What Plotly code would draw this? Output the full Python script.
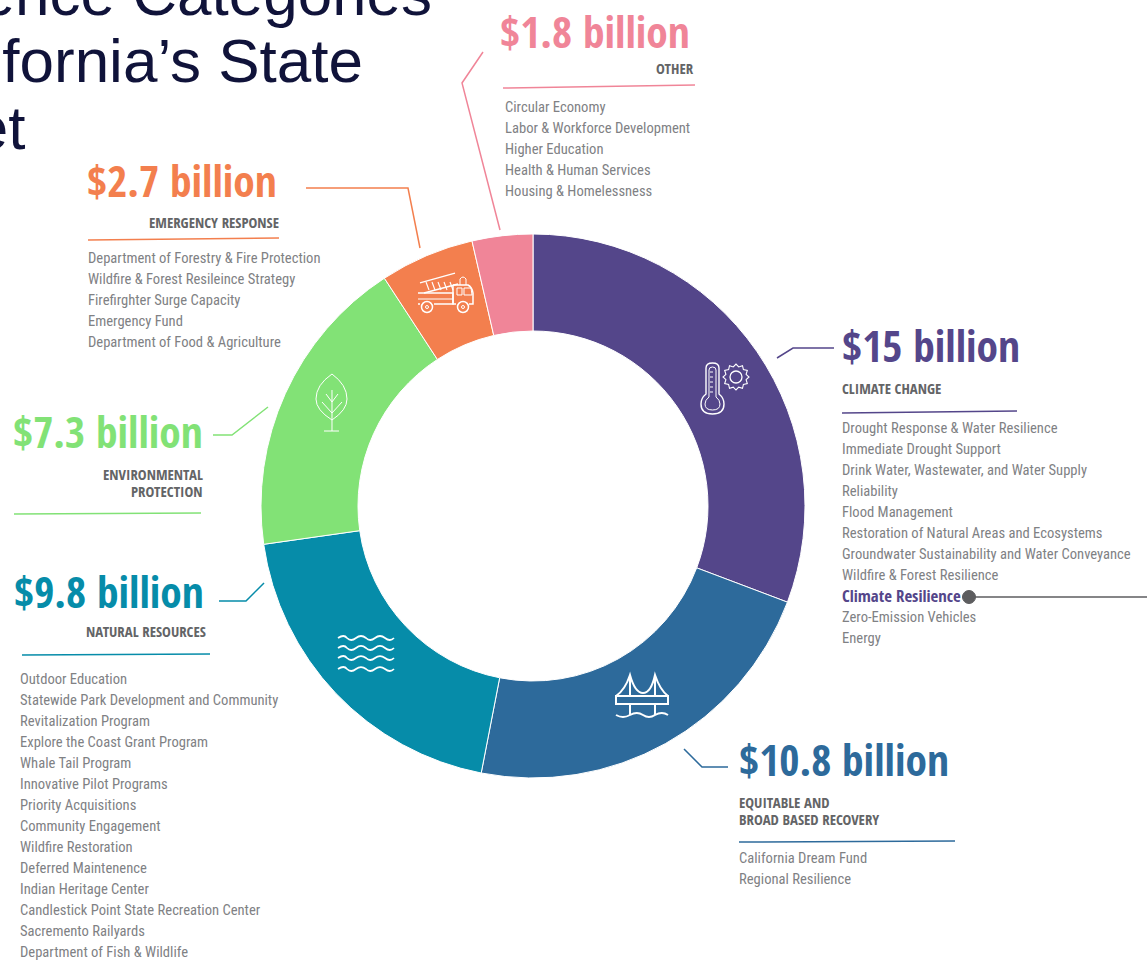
import math
import re
import plotly.graph_objects as go

W, H = 1147, 960

categories = ["Climate Change", "Equitable and Broad Based Recovery", "Natural Resources",
              "Environmental Protection", "Emergency Response", "Other"]
amount_labels = ["$15 billion", "$10.8 billion", "$9.8 billion", "$7.3 billion", "$2.7 billion", "$1.8 billion"]
# slice sizes as drawn in the picture (percent of the ring)
slice_shares = [30.75, 22.3, 19.7, 18.05, 5.6, 3.6]
colors = ["#54468a", "#2d6a9b", "#068ca9", "#82e276", "#f37f4e", "#f08598"]

climate_items = ["Drought Response & Water Resilience", "Immediate Drought Support",
                 "Drink Water, Wastewater, and Water Supply", "Reliability", "Flood Management",
                 "Restoration of Natural Areas and Ecosystems",
                 "Groundwater Sustainability and Water Conveyance", "Wildfire & Forest Resilience",
                 "Climate Resilience", "Zero-Emission Vehicles", "Energy"]
recovery_items = ["California Dream Fund", "Regional Resilience"]
resources_items = ["Outdoor Education", "Statewide Park Development and Community", "Revitalization Program",
                   "Explore the Coast Grant Program", "Whale Tail Program", "Innovative Pilot Programs",
                   "Priority Acquisitions", "Community Engagement", "Wildfire Restoration",
                   "Deferred Maintenence", "Indian Heritage Center", "Candlestick Point State Recreation Center",
                   "Sacremento Railyards", "Department of Fish & Wildlife"]
emergency_items = ["Department of Forestry & Fire Protection", "Wildfire & Forest Resileince Strategy",
                   "Firefirghter Surge Capacity", "Emergency Fund", "Department of Food & Agriculture"]
other_items = ["Circular Economy", "Labor & Workforce Development", "Higher Education",
               "Health & Human Services", "Housing & Homelessness"]
title_lines = ["Resilience Categories", "in California’s State", "Budget"]

NARROW = "Roboto Condensed"
HEADF = "Open Sans Condensed"
GRAY = "#808184"
DARK = "#636466"
annotations, shapes = [], []


def fx(x):
    return x / W


def fy(y):
    return 1 - y / H


def text(x, y, s, size, color, anchor="left", bold=False, family=NARROW):
    annotations.append(dict(
        x=fx(x), y=fy(y), xref="paper", yref="paper", text=f"<b>{s}</b>" if bold else s,
        showarrow=False, xanchor=anchor, yanchor="middle", align=anchor,
        font=dict(family=family, size=size, color=color), borderpad=0, borderwidth=0))


def path(d, color, width=1.5, fill=None):
    def conv(m):
        return f"{fx(float(m.group(1))):.5f},{fy(float(m.group(2))):.5f}"
    d = re.sub(r"(-?[\d.]+),(-?[\d.]+)", conv, d)
    shapes.append(dict(type="path", xref="paper", yref="paper", path=d,
                       line=dict(color=color, width=width),
                       fillcolor=fill if fill else "rgba(0,0,0,0)", layer="above"))


def circle(cx, cy, r, color, width=1.5, fill=None):
    shapes.append(dict(type="circle", xref="paper", yref="paper",
                       x0=fx(cx - r), x1=fx(cx + r), y0=fy(cy - r), y1=fy(cy + r),
                       line=dict(color=color, width=width),
                       fillcolor=fill if fill else "rgba(0,0,0,0)", layer="above"))


ITEM_SIZE = 14.6
HEAD = 43.5
SUB = 14.8


def items(x, y0, lst):
    for i, s in enumerate(lst):
        text(x, y0 + 21 * i, s, ITEM_SIZE, GRAY)


def sub(x, y, s, anchor="left"):
    text(x, y, s, SUB, DARK, anchor, family=HEADF)


def head(x, y, s, color):
    text(x, y - 1, s, HEAD, color, family=HEADF)


# title
text(432, -6, title_lines[0], 62, "#10133a", "right", family="Liberation Sans")
text(363, 60, title_lines[1], 62, "#10133a", "right", family="Liberation Sans")
text(26, 127, title_lines[2], 62, "#10133a", "right", family="Liberation Sans")

# Climate change
head(842, 346, amount_labels[0], colors[0])
sub(842, 388, "CLIMATE CHANGE")
path("M842,413 L1017,411", colors[0])
path("M777,358 L793,348 L834,348", colors[0])
for i, s in enumerate(climate_items):
    if s == "Climate Resilience":
        text(842, 428 + 21 * i - 1, s, 16.8, colors[0], family=HEADF)
    else:
        text(842, 428 + 21 * i, s, ITEM_SIZE, GRAY)
path("M962,597 L1147,597", "#5d5d5f", 1.5)
circle(969, 597, 6.5, "#5d5d5f", 1, "#5d5d5f")

# Recovery
head(739, 760, amount_labels[1], colors[1])
sub(739, 802, "EQUITABLE AND")
sub(739, 819, "BROAD BASED RECOVERY")
path("M739,842 L955,841", colors[1])
path("M684,749 L702,767 L728,767", colors[1])
items(739, 858, recovery_items)

# Natural resources
head(14, 592, amount_labels[2], colors[2])
sub(206, 631, "NATURAL RESOURCES", "right")
path("M22,655 L210,654", colors[2])
path("M219,601 L246,601 L264,583", colors[2])
items(20, 679, resources_items)

# Environmental protection
head(13, 432, amount_labels[3], colors[3])
sub(203, 474, "ENVIRONMENTAL", "right")
sub(203, 491, "PROTECTION", "right")
path("M14,514 L201,513", colors[3])
path("M213,435 L232,435 L268,407", colors[3])

# Emergency response
head(87, 182, amount_labels[4], colors[4])
sub(279, 222, "EMERGENCY RESPONSE", "right")
path("M88,240 L279,238", colors[4])
path("M306,188 L408,188 L420,248", colors[4])
items(88, 258, emergency_items)

# Other
head(500, 32, amount_labels[5], colors[5])
sub(694, 68, "OTHER", "right")
path("M503,88 L695,85", colors[5])
path("M483,52 L462,83 L500,230", colors[5])
items(505, 107, other_items)

# icons (white line art over the ring)
WH = "#ffffff"
# thermometer and serrated sun
path("M706,394 L706,368 Q706,363 712.5,363 Q719,363 719,368 L719,394 "
     "Q724,398 724,404 Q724,414 712.5,414 Q701,414 701,404 Q701,398 706,394 Z", WH, 1.4)
path("M709,397 L709,370 Q709,367 712.5,367 Q716,367 716,370 L716,397 "
     "Q720,400 720,404 Q720,410 712.5,410 Q705,410 705,404 Q705,400 709,397 Z", WH, 1)
for yy in (372, 377, 382, 387, 392):
    path(f"M710,{yy} L713,{yy}", WH, 1)
circle(736, 377, 6, WH, 1.3)
sun = []
for k in range(24):
    rad = 13 if k % 2 == 0 else 10.5
    ang = math.pi * k / 12
    sun.append(f"{736 + rad * math.cos(ang):.1f},{377 + rad * math.sin(ang):.1f}")
path("M" + " L".join(sun) + " Z", WH, 1.1)

# fire truck
path("M418,293 L453,293 L453,304 L434,304 M420,304 L418,304 Z", WH, 1.5)
path("M453,285 L468,285 Q472,287 473,293 L473,304 L469,304 M456,304 L453,304 L453,285", WH, 1.5)
path("M418,299 L453,299", WH, 1)
path("M457,288 L457,295 L462,295 L462,288 Z M464,288 L464,295 L472,295 L471,288 Z", WH, 1)
circle(427, 307, 5.5, WH, 1.5)
circle(463, 307, 5.5, WH, 1.5)
circle(427, 307, 1.5, WH, 1)
circle(463, 307, 1.5, WH, 1)
path("M420,283 L455,273 M424,293 L458,284", WH, 1.3)
for xx in (426, 432, 438, 444, 450):
    path(f"M{xx},282 L{xx + 3},290", WH, 1.1)
path("M460,285 L460,279 Q463,275 466,279 L466,285", WH, 1)

# leaf
path("M332,374 Q347,385 347,399 Q347,410 332,420 Q316,410 316,399 Q316,385 332,374 Z", WH, 1)
path("M332,390 L332,431 M324,431 L339,431", WH, 1)
path("M332,402 L326,394 M332,402 L338,394 M332,413 L322,402 M332,413 L342,402", WH, 1)

# waves
for wy in (638, 648, 658, 669):
    path(f"M338,{wy} Q344,{wy - 4} 347,{wy} Q351,{wy + 4} 356,{wy} Q361,{wy - 4} 366,{wy} "
         f"Q370,{wy + 4} 375,{wy} Q380,{wy - 4} 385,{wy} Q390,{wy + 4} 394,{wy}", WH, 1.7)

# bridge
path("M616,696 L668,696 L668,704 L616,704 Z", WH, 2)
path("M616,696 Q625,690 630,675 Q635,693 643,693 Q651,693 655,675 Q660,690 668,696", WH, 2)
path("M630,675 L630,696 M655,675 L655,696 M630,704 L630,715 M655,704 L655,715", WH, 2)
path("M616,715 Q623,719 630,715 Q637,711 643,715 Q649,719 655,715 Q662,711 668,715", WH, 2)

cx, cy, r = 533, 506, 272
fig = go.Figure(go.Pie(
    labels=categories, values=slice_shares, sort=False, direction="clockwise", rotation=0,
    hole=175 / 272, textinfo="none", hoverinfo="label",
    marker=dict(colors=colors, line=dict(color="#ffffff", width=1)),
    domain=dict(x=[(cx - r) / W, (cx + r) / W], y=[1 - (cy + r) / H, 1 - (cy - r) / H]),
    showlegend=False))

fig.update_layout(width=W, height=H, margin=dict(l=0, r=0, t=0, b=0),
                  paper_bgcolor="#ffffff", plot_bgcolor="#ffffff",
                  annotations=annotations, shapes=shapes, showlegend=False)
fig.write_html("out.html", post_script="document.body.style.margin='0';",
               config={"displayModeBar": False})
